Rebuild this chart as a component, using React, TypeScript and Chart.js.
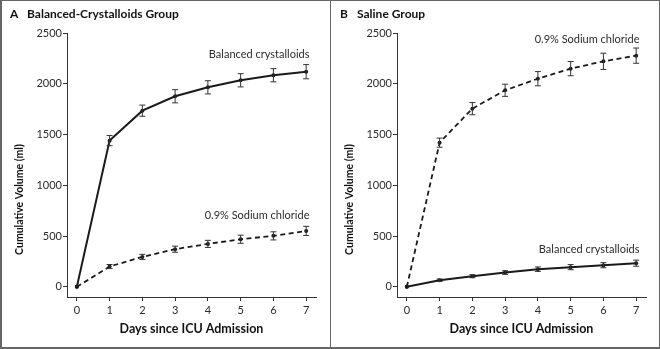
import React, { useEffect, useRef } from "react";
import { Chart, registerables } from "chart.js";

Chart.register(...registerables);

const days = [0, 1, 2, 3, 4, 5, 6, 7];
const yTickValues = [0, 500, 1000, 1500, 2000, 2500];
const xTickValues = [0, 1, 2, 3, 4, 5, 6, 7];

// Panel A: Balanced-Crystalloids Group
const aBalanced = [0, 1440, 1735, 1877, 1965, 2034, 2084, 2119];
const aBalancedErr = [0, 50, 55, 65, 65, 65, 65, 70];
const aSaline = [0, 200, 295, 371, 423, 469, 502, 551];
const aSalineErr = [0, 20, 25, 30, 35, 40, 40, 45];

// Panel B: Saline Group
const bSaline = [0, 1420, 1755, 1936, 2050, 2149, 2221, 2277];
const bSalineErr = [0, 45, 60, 60, 70, 70, 80, 75];
const bBalanced = [0, 65, 105, 141, 174, 194, 213, 233];
const bBalancedErr = [0, 12, 15, 18, 22, 25, 25, 30];

const labelBalanced = "Balanced crystalloids";
const labelSaline = "0.9% Sodium chloride";
const xTitle = "Days since ICU Admission";
const yTitle = "Cumulative Volume (ml)";

const FONT = "Lato";
const TEXT = "#2b2b2b";
const LINE = "#1a1a1a";

type Series = { label: string; values: number[]; err: number[]; dashed: boolean; anchor: [number, number] };
type Panel = { letter: string; title: string; series: Series[] };

const panels: Panel[] = [
  {
    letter: "A",
    title: "Balanced-Crystalloids Group",
    series: [
      { label: labelBalanced, values: aBalanced, err: aBalancedErr, dashed: false, anchor: [7.1, 2290] },
      { label: labelSaline, values: aSaline, err: aSalineErr, dashed: true, anchor: [7.1, 700] },
    ],
  },
  {
    letter: "B",
    title: "Saline Group",
    series: [
      { label: labelSaline, values: bSaline, err: bSalineErr, dashed: true, anchor: [7.1, 2440] },
      { label: labelBalanced, values: bBalanced, err: bBalancedErr, dashed: false, anchor: [7.1, 365] },
    ],
  },
];

function makeChart(canvas: HTMLCanvasElement, panel: Panel) {
  const overlay = {
    id: "overlay",
    afterDatasetsDraw(chart: any) {
      const ctx = chart.ctx;
      const xs = chart.scales.x;
      const ys = chart.scales.y;
      ctx.save();
      // error bars
      ctx.strokeStyle = "#333";
      ctx.lineWidth = 1;
      panel.series.forEach((s) => {
        days.forEach((d, i) => {
          const e = s.err[i];
          if (!e) return;
          const px = xs.getPixelForValue(d);
          const y1 = ys.getPixelForValue(s.values[i] + e);
          const y2 = ys.getPixelForValue(s.values[i] - e);
          ctx.beginPath();
          ctx.moveTo(px, y1);
          ctx.lineTo(px, y2);
          ctx.moveTo(px - 3, y1);
          ctx.lineTo(px + 3, y1);
          ctx.moveTo(px - 3, y2);
          ctx.lineTo(px + 3, y2);
          ctx.stroke();
        });
      });
      // series labels
      ctx.fillStyle = TEXT;
      ctx.font = `11px ${FONT}`;
      ctx.textAlign = "right";
      ctx.textBaseline = "middle";
      panel.series.forEach((s) => {
        ctx.fillText(s.label, xs.getPixelForValue(s.anchor[0]), ys.getPixelForValue(s.anchor[1]));
      });
      // y axis title
      ctx.save();
      ctx.translate(20, ys.getPixelForValue(860));
      ctx.rotate(-Math.PI / 2);
      ctx.textAlign = "center";
      ctx.font = `bold 10.5px ${FONT}`;
      ctx.fillStyle = "#111";
      ctx.fillText(yTitle, 0, 0);
      ctx.restore();
      // panel title
      ctx.textAlign = "left";
      ctx.font = `bold 12px ${FONT}`;
      ctx.fillStyle = "#111";
      ctx.fillText(panel.letter, 10, 14);
      ctx.fillText(panel.title, 27, 14);
      ctx.restore();
    },
  };

  return new Chart(canvas, {
    type: "line",
    data: {
      datasets: panel.series.map((s) => ({
        label: s.label,
        data: days.map((d, i) => ({ x: d, y: s.values[i] })),
        borderColor: LINE,
        backgroundColor: LINE,
        borderWidth: s.dashed ? 1.8 : 2,
        borderDash: s.dashed ? [5, 3.5] : [],
        pointRadius: 2,
        pointHoverRadius: 2,
        pointBorderWidth: 0,
        pointBackgroundColor: LINE,
        tension: 0,
        fill: false,
      })),
    },
    options: {
      animation: false,
      responsive: false,
      events: [],
      layout: { padding: { top: 33, left: 0, right: 14, bottom: 0 } },
      plugins: { legend: { display: false }, tooltip: { enabled: false }, title: { display: false } },
      scales: {
        x: {
          type: "linear",
          min: -0.3,
          max: 7.3,
          afterBuildTicks: (sc: any) => {
            sc.ticks = xTickValues.map((v) => ({ value: v }));
          },
          afterFit: (sc: any) => {
            sc.height = 52;
          },
          grid: { drawOnChartArea: false, drawTicks: true, tickLength: 4, color: "#333", lineWidth: 1 },
          border: { display: true, color: "#333", width: 1 },
          ticks: {
            color: TEXT,
            font: { family: FONT, size: 11 },
            padding: 3,
            maxRotation: 0,
            autoSkip: false,
            callback: (v: any) => String(v),
          },
          title: {
            display: true,
            text: xTitle,
            color: "#111",
            font: { family: FONT, size: 12.5, weight: "bold" },
            padding: { top: 0, bottom: 13 },
          },
        },
        y: {
          type: "linear",
          min: -100,
          max: 2500,
          afterBuildTicks: (sc: any) => {
            sc.ticks = yTickValues.map((v) => ({ value: v }));
          },
          afterFit: (sc: any) => {
            sc.width = 67;
          },
          grid: { drawOnChartArea: false, drawTicks: true, tickLength: 4, color: "#333", lineWidth: 1 },
          border: { display: true, color: "#333", width: 1 },
          ticks: {
            color: TEXT,
            font: { family: FONT, size: 11 },
            padding: 1,
            autoSkip: false,
            callback: (v: any) => String(v),
          },
          title: { display: false },
        },
      },
    },
    plugins: [overlay],
  } as any);
}

export default function App() {
  const leftRef = useRef<HTMLCanvasElement>(null);
  const rightRef = useRef<HTMLCanvasElement>(null);

  useEffect(() => {
    const charts: Chart[] = [];
    if (leftRef.current) charts.push(makeChart(leftRef.current, panels[0]));
    if (rightRef.current) charts.push(makeChart(rightRef.current, panels[1]));
    return () => charts.forEach((c) => c.destroy());
  }, []);

  return (
    <div style={{ position: "fixed", left: 0, top: 0, width: 660, height: 349, background: "#fff" }}>
      <canvas ref={leftRef} width={330} height={349} style={{ position: "absolute", left: 0, top: 0, width: 330, height: 349 }} />
      <canvas ref={rightRef} width={330} height={349} style={{ position: "absolute", left: 330, top: 0, width: 330, height: 349 }} />
      <div
        style={{
          position: "absolute",
          left: 0,
          top: 0,
          width: 660,
          height: 349,
          boxSizing: "border-box",
          borderTop: "1px solid #666",
          borderRight: "1px solid #666",
          borderBottom: "2px solid #666",
          borderLeft: "2px solid #666",
          pointerEvents: "none",
        }}
      />
      <div style={{ position: "absolute", left: 330, top: 0, width: 1, height: 349, background: "#666", pointerEvents: "none" }} />
    </div>
  );
}
